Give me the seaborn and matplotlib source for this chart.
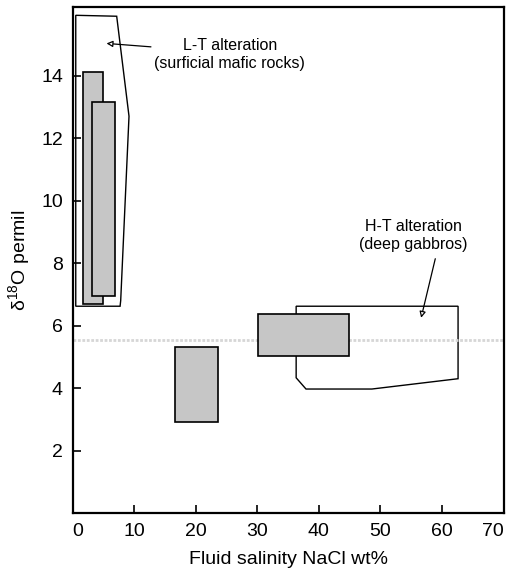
import matplotlib
matplotlib.use("Agg")
import matplotlib.pyplot as plt
import matplotlib.patches as mpatches
import seaborn as sns

# Shaded fields (fluid inclusion data) - drawn in order
box_x0 = [1.6, 3.2, 30.1, 16.7]
box_x1 = [4.9, 6.9, 44.9, 23.6]
box_y0 = [6.7, 6.95, 5.03, 2.9]
box_y1 = [14.1, 13.15, 6.38, 5.33]

# Outlined alteration fields
lt_x = [0.5, 7.15, 9.15, 7.8, 7.7, 0.5]
lt_y = [15.93, 15.9, 12.7, 6.8, 6.62, 6.62]
ht_x = [36.3, 62.6, 62.6, 48.6, 37.9, 36.3]
ht_y = [6.62, 6.62, 4.3, 3.97, 3.97, 4.33]

# Mantle reference value
mantle_d18o = 5.54

x_ticks = [0, 10, 20, 30, 40, 50, 60, 70]
y_ticks = [2, 4, 6, 8, 10, 12, 14]

sns.set_theme(style="ticks")
plt.rcParams["font.family"] = ["Liberation Sans", "DejaVu Sans"]
plt.rcParams["mathtext.fontset"] = "custom"
plt.rcParams["mathtext.rm"] = "Liberation Sans"
plt.rcParams["text.color"] = "black"
plt.rcParams["axes.labelcolor"] = "black"
plt.rcParams["xtick.color"] = "black"
plt.rcParams["ytick.color"] = "black"

fig = plt.figure(figsize=(5.1, 5.72), dpi=100)
ax = fig.add_axes([0.1425, 0.103, 0.845, 0.885])

# outlined fields
ax.fill(lt_x, lt_y, facecolor="none", edgecolor="black", lw=1.0, zorder=2)
ax.fill(ht_x, ht_y, facecolor="none", edgecolor="black", lw=1.0, zorder=2)

# mantle line (light gray dotted)
ax.axhline(mantle_d18o, color="#d6d6d6", lw=2.0, ls=(0, (1, 0.6)), zorder=2.5)

# shaded boxes
for x0, x1, y0, y1 in zip(box_x0, box_x1, box_y0, box_y1):
    ax.add_patch(mpatches.Rectangle((x0, y0), x1 - x0, y1 - y0,
                                    facecolor="#c6c6c6", edgecolor="black",
                                    lw=1.2, zorder=3))

# annotations
ax.annotate("L-T alteration\n(surficial mafic rocks)", xy=(5.5, 15.03), xytext=(25.5, 14.68),
            ha="center", va="center", fontsize=11.5, linespacing=1.25,
            arrowprops=dict(arrowstyle="-|>", fc="white", ec="black", lw=0.9,
                            mutation_scale=9, shrinkA=0, shrinkB=0,
                            relpos=(0.0, 0.72)),
            zorder=4)
ax.text(55.4, 8.88, "H-T alteration\n(deep gabbros)", ha="center", va="center",
        fontsize=11.5, linespacing=1.25, zorder=4)
ax.annotate("", xy=(56.6, 6.25), xytext=(58.9, 8.14),
            arrowprops=dict(arrowstyle="-|>", fc="white", ec="black", lw=0.9,
                            mutation_scale=9, shrinkA=0, shrinkB=0),
            zorder=4)

ax.set_xlim(0, 70)
ax.set_ylim(0, 16.2)
ax.set_xticks(x_ticks)
xlabels = ax.set_xticklabels([str(v) for v in x_ticks])
xlabels[0].set_horizontalalignment("left")
xlabels[-1].set_horizontalalignment("right")
ax.set_yticks(y_ticks)
ax.set_yticklabels([str(v) for v in y_ticks])
ax.tick_params(direction="in", length=6, width=1.2, labelsize=14, pad=7, color="black")
for s in ax.spines.values():
    s.set_linewidth(1.6)
    s.set_color("black")

ax.set_xlabel("Fluid salinity NaCl wt%", fontsize=14, labelpad=8)
ax.set_ylabel(r"δ$^{18}$O permil", fontsize=14, labelpad=6)

fig.savefig("out.png", dpi=100)
